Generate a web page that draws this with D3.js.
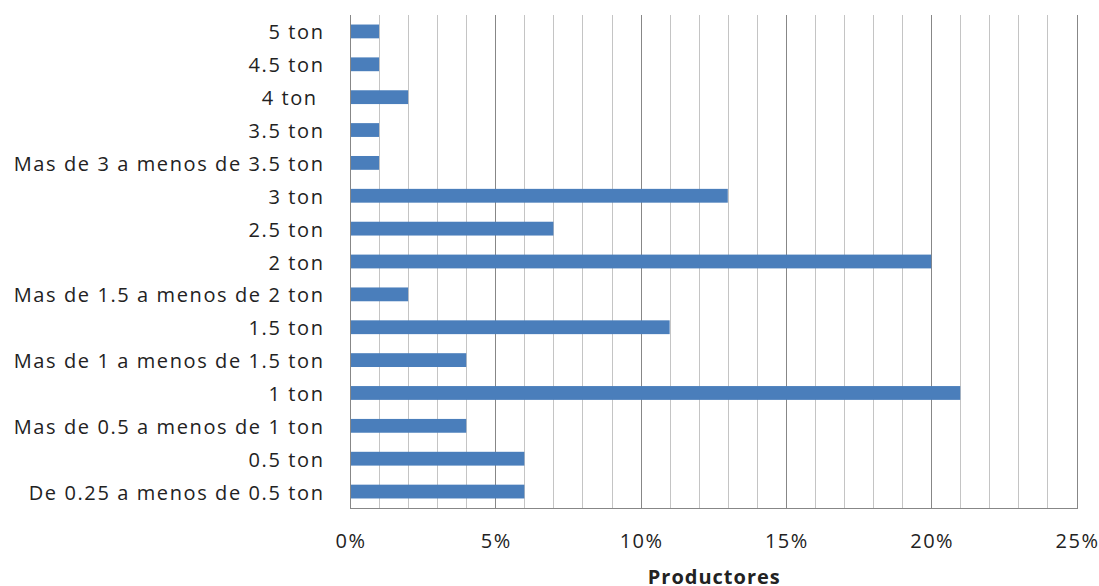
<!DOCTYPE html>
<html lang="es">
<head>
<meta charset="utf-8">
<title>Productores</title>
<script src="https://cdn.jsdelivr.net/npm/d3@7"></script>
<style>
  body { margin: 0; background: #fff; }
  text { font-family: "Open Sans", "DejaVu Sans", sans-serif; fill: #222; }
</style>
</head>
<body>
<script>
// categories top to bottom, values in %
var categorias = ["5 ton", "4.5 ton", "4 ton ", "3.5 ton", "Mas de 3 a menos de 3.5 ton",
  "3 ton", "2.5 ton", "2 ton", "Mas de 1.5 a menos de 2 ton", "1.5 ton",
  "Mas de 1 a menos de 1.5 ton", "1 ton", "Mas de 0.5 a menos de 1 ton", "0.5 ton",
  "De 0.25 a menos de 0.5 ton"];
var productores = [1, 1, 2, 1, 1, 13, 7, 20, 2, 11, 4, 21, 4, 6, 6];
var ticksX = [0, 5, 10, 15, 20, 25];

var W = 1099, H = 586;
var m = {top: 15, right: 22.5, bottom: 78, left: 350};

var svg = d3.select("body").append("svg")
    .attr("width", W)
    .attr("height", H);

var x = d3.scaleLinear().domain([0, 25]).range([m.left, W - m.right]);
var y = d3.scaleBand().domain(categorias).range([m.top, H - m.bottom]).paddingInner(0.58).paddingOuter(0.29);

// gridlines every 1%, darker every 5%
svg.append("g").selectAll("line")
    .data(d3.range(1, 26))
    .enter().append("line")
    .attr("x1", function(d){ return Math.round(x(d)) + 0.5; })
    .attr("x2", function(d){ return Math.round(x(d)) + 0.5; })
    .attr("y1", m.top)
    .attr("y2", H - m.bottom)
    .attr("stroke", function(d){ return d % 5 === 0 ? "#878787" : "#c4c4c4"; })
    .attr("stroke-width", 1);

// bars
svg.append("g").selectAll("rect")
    .data(productores)
    .enter().append("rect")
    .attr("x", x(0))
    .attr("y", function(d, i){ return y(categorias[i]); })
    .attr("width", function(d){ return x(d) - x(0); })
    .attr("height", y.bandwidth())
    .attr("fill", "#4a7ebb");

// axis lines
svg.append("line")
    .attr("x1", Math.round(x(0)) + 0.5).attr("x2", Math.round(x(0)) + 0.5)
    .attr("y1", m.top).attr("y2", H - m.bottom + 0.5)
    .attr("stroke", "#878787");
svg.append("line")
    .attr("x1", x(0)).attr("x2", Math.round(x(25)) + 1)
    .attr("y1", H - m.bottom + 0.5).attr("y2", H - m.bottom + 0.5)
    .attr("stroke", "#878787");

// category labels
svg.append("g").selectAll("text")
    .data(categorias)
    .enter().append("text")
    .attr("x", 324.5)
    .attr("y", function(d){ return y(d) + y.bandwidth() / 2; })
    .attr("dy", "0.4em")
    .attr("text-anchor", "end")
    .style("white-space", "pre")
    .style("letter-spacing", "1.6px")
    .attr("font-size", 20)
    .text(function(d){ return d; });

// x tick labels
svg.append("g").selectAll("text")
    .data(ticksX)
    .enter().append("text")
    .attr("x", function(d){ return x(d) + 1; })
    .attr("y", 548)
    .attr("text-anchor", "middle")
    .style("letter-spacing", "1.5px")
    .attr("font-size", 20)
    .text(function(d){ return d + "%"; });

svg.append("text")
    .attr("x", (x(0) + x(25)) / 2 + 1)
    .attr("y", 584)
    .attr("text-anchor", "middle")
    .style("letter-spacing", "1px")
    .attr("font-size", 20)
    .attr("font-weight", "bold")
    .text("Productores");
</script>
</body>
</html>
